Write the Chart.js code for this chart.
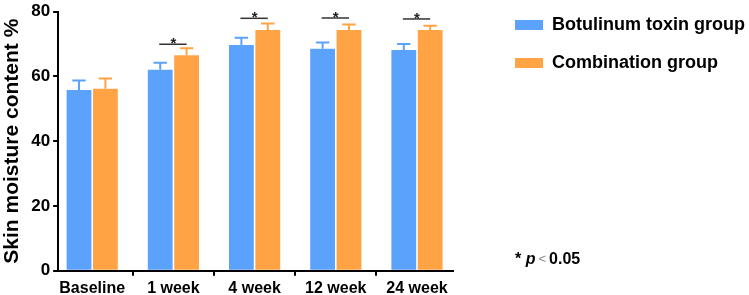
<!DOCTYPE html>
<html>
<head>
<meta charset="utf-8">
<script src="https://cdn.jsdelivr.net/npm/chart.js@4.4.1/dist/chart.umd.min.js"></script>
<style>
  html, body { margin: 0; padding: 0; background: #fff; }
  #wrap { width: 749px; height: 295px; }
</style>
</head>
<body>
<div id="wrap"><canvas id="chart"></canvas></div>
<script>
const categories = ['Baseline', '1 week', '4 week', '12 week', '24 week'];
const botoxValues = [55.8, 62.0, 69.7, 68.5, 68.1];
const botoxErrors = [2.9, 2.2, 2.2, 1.9, 1.9];
const comboValues = [56.2, 66.5, 74.3, 74.3, 74.3];
const comboErrors = [3.1, 2.2, 2.0, 1.7, 1.3];
// height of the significance bar per group (null = not significant)
const sigLevels = [null, 69.9, 77.9, 78.0, 77.7];
const yTicks = [0, 20, 40, 60, 80];

const font = '"Liberation Sans", Arial, sans-serif';
const blue = '#5aa2fb';
const orange = '#ffa345';
const legendPad = 20;
const axisTrim = 42;

const errorBars = {
  id: 'errorBars',
  afterDatasetsDraw(chart) {
    const ctx = chart.ctx;
    const y = chart.scales.y;
    const errs = [botoxErrors, comboErrors];
    chart.data.datasets.forEach((ds, di) => {
      chart.getDatasetMeta(di).data.forEach((bar, i) => {
        const top = y.getPixelForValue(ds.data[i].y + errs[di][i]);
        const half = bar.width * 0.27;
        ctx.save();
        ctx.strokeStyle = ds.backgroundColor;
        ctx.lineWidth = 2;
        ctx.beginPath();
        ctx.moveTo(bar.x, bar.y);
        ctx.lineTo(bar.x, top);
        ctx.moveTo(bar.x - half, top);
        ctx.lineTo(bar.x + half, top);
        ctx.stroke();
        ctx.restore();
      });
    });
  }
};

const sigMarks = {
  id: 'sigMarks',
  afterDatasetsDraw(chart) {
    const ctx = chart.ctx;
    const y = chart.scales.y;
    const a = chart.getDatasetMeta(0).data;
    const b = chart.getDatasetMeta(1).data;
    sigLevels.forEach((lvl, i) => {
      if (lvl === null) return;
      const py = y.getPixelForValue(lvl);
      ctx.save();
      ctx.strokeStyle = '#333';
      ctx.lineWidth = 1.5;
      ctx.beginPath();
      ctx.moveTo(a[i].x - 1, py);
      ctx.lineTo(b[i].x, py);
      ctx.stroke();
      ctx.fillStyle = '#222';
      ctx.font = 'bold 15px ' + font;
      ctx.textAlign = 'center';
      ctx.textBaseline = 'alphabetic';
      ctx.fillText('*', (a[i].x + b[i].x) / 2, py + 4);
      ctx.restore();
    });
  }
};

const pNote = {
  id: 'pNote',
  afterDraw(chart) {
    const ctx = chart.ctx;
    let x = chart.legend.left + legendPad;
    const py = chart.chartArea.bottom - 7;
    ctx.save();
    ctx.textBaseline = 'alphabetic';
    ctx.textAlign = 'left';
    ctx.fillStyle = '#000';
    ctx.font = 'bold 16px ' + font;
    ctx.fillText('*', x, py);
    x += ctx.measureText('* ').width;
    ctx.font = 'italic bold 16px ' + font;
    ctx.fillText('p', x, py);
    x += ctx.measureText('p').width + 3;
    ctx.fillStyle = '#888';
    ctx.font = '13px ' + font;
    ctx.fillText('<', x, py - 1);
    x += ctx.measureText('<').width + 3;
    ctx.fillStyle = '#000';
    ctx.font = 'bold 16px ' + font;
    ctx.fillText('0.05', x, py);
    ctx.restore();
  }
};

// the x axis stops well before the legend, as in the original figure
const trimAxis = {
  id: 'trimAxis',
  afterLayout(chart) {
    const xs = chart.scales.x;
    xs.right = chart.chartArea.right - axisTrim;
    xs.width = xs.right - xs.left;
    xs.configure();
  }
};

new Chart(document.getElementById('chart'), {
  type: 'bar',
  data: {
    datasets: [
      {
        label: 'Botulinum toxin group',
        data: botoxValues.map((v, i) => ({ x: i, y: v })),
        backgroundColor: blue,
        categoryPercentage: 0.65,
        barPercentage: 0.94
      },
      {
        label: 'Combination group',
        data: comboValues.map((v, i) => ({ x: i, y: v })),
        backgroundColor: orange,
        categoryPercentage: 0.65,
        barPercentage: 0.94
      }
    ]
  },
  options: {
    responsive: true,
    maintainAspectRatio: false,
    animation: false,
    layout: { padding: { top: -4, right: -6, bottom: -6, left: 0 } },
    scales: {
      x: {
        type: 'linear',
        min: -0.42,
        max: 4.444,
        offset: false,
        border: { color: '#000', width: 2 },
        grid: { drawOnChartArea: false, color: '#000', lineWidth: 2, tickLength: 5 },
        ticks: {
          stepSize: 1,
          includeBounds: false,
          autoSkip: false,
          maxRotation: 0,
          padding: 3,
          color: '#000',
          font: { family: font, size: 16, weight: 'bold' },
          callback: (v) => categories[v]
        }
      },
      y: {
        min: 0,
        max: 80,
        afterBuildTicks: (s) => { s.ticks = yTicks.map(v => ({ value: v })); },
        border: { color: '#000', width: 2 },
        grid: { drawOnChartArea: false, color: '#000', lineWidth: 2, tickLength: 5 },
        ticks: {
          padding: 3,
          color: '#000',
          font: { family: font, size: 17, weight: 'bold', lineHeight: 1 }
        },
        title: {
          display: true,
          text: 'Skin moisture content %',
          color: '#000',
          padding: { top: 0, bottom: 3 },
          font: { family: font, size: 21, weight: 'bold' }
        }
      }
    },
    plugins: {
      legend: {
        position: 'right',
        align: 'start',
        maxWidth: 300,
        labels: {
          boxWidth: 28,
          boxHeight: 10,
          padding: legendPad,
          color: '#000',
          font: { family: font, size: 18, weight: 'bold' }
        }
      },
      tooltip: { enabled: false }
    }
  },
  plugins: [trimAxis, errorBars, sigMarks, pNote]
});
</script>
</body>
</html>
